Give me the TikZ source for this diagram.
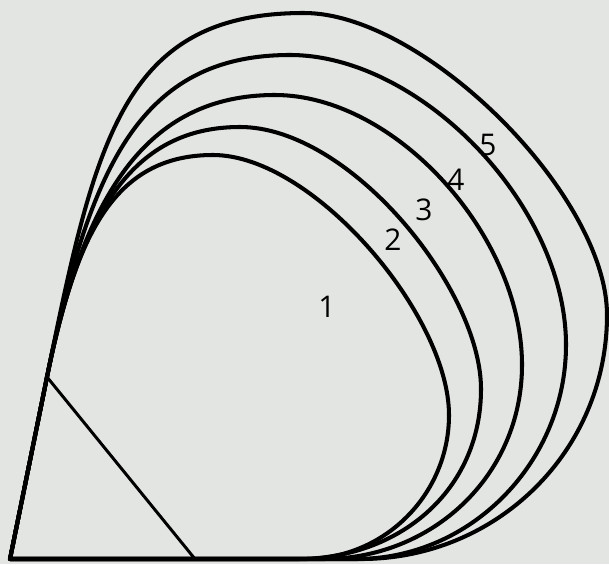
\documentclass[tikz,border=0pt]{standalone}
\usepackage{fontspec}
\setmainfont{Open Sans}
\definecolor{paper}{RGB}{227,229,226}
\begin{document}
\begin{tikzpicture}[x=2mm,y=2mm,line cap=round,line join=round,
    loop/.style={line width=2.3pt},
    num/.style={font=\fontsize{17}{20}\selectfont,inner sep=0pt}]
  \fill[paper] (-1,-0.5) rectangle (59.9,55.9);
  \useasboundingbox (-1,-0.5) rectangle (59.9,55.9);
  \coordinate (O) at (0,0);
  \coordinate (A) at (3.7,18.2);
  \coordinate (D) at (18.5,0);
  % the five loops, all leaving O along the same edge
  \draw[loop] (O) -- (A) .. controls (6.54,32.2) and (10.3,40.4) .. (20.3,40.4)
    .. controls (30.3,40.4) and (43.9,24.4) .. (43.9,14.4)
    .. controls (43.9,6.45) and (37.45,0) .. (29.5,0) -- (O);
  \draw[loop] (O) -- (A) .. controls (6.95,34.2) and (12,43.2) .. (23,43.2)
    .. controls (34,43.2) and (47.1,27) .. (47.1,17)
    .. controls (47.1,6.8) and (38.9,0) .. (28.7,0) -- (O);
  \draw[loop] (O) -- (A) .. controls (7.35,36.2) and (13.5,46.4) .. (26.5,46.4)
    .. controls (38.5,46.4) and (51.2,32.4) .. (51.2,19.4)
    .. controls (51.2,8.4) and (42.3,0) .. (31.3,0) -- (O);
  \draw[loop] (O) -- (A) .. controls (7.96,39.2) and (13,50.4) .. (28,50.4)
    .. controls (41,50.4) and (55.6,35.4) .. (55.6,21.4)
    .. controls (55.6,9.8) and (46.2,0) .. (34.6,0) -- (O);
  \draw[loop] (O) -- (A) .. controls (8.57,42.2) and (11.4,54.6) .. (29.4,54.6)
    .. controls (41.4,54.6) and (59.7,36.4) .. (59.7,24.4)
    .. controls (59.7,10.8) and (48.7,0) .. (35.1,0) -- (O);
  \draw[line width=1.7pt] (A) -- (D);
  \node[num] (n1) at (31.7,25.2) {1};
  \node[num] (n2) at (38.3,31.9) {2};
  \node[num] (n3) at (41.4,34.9) {3};
  \node[num] (n4) at (44.6,37.9) {4};
  \node[num] (n5) at (47.8,41.4) {5};
\end{tikzpicture}
\end{document}
